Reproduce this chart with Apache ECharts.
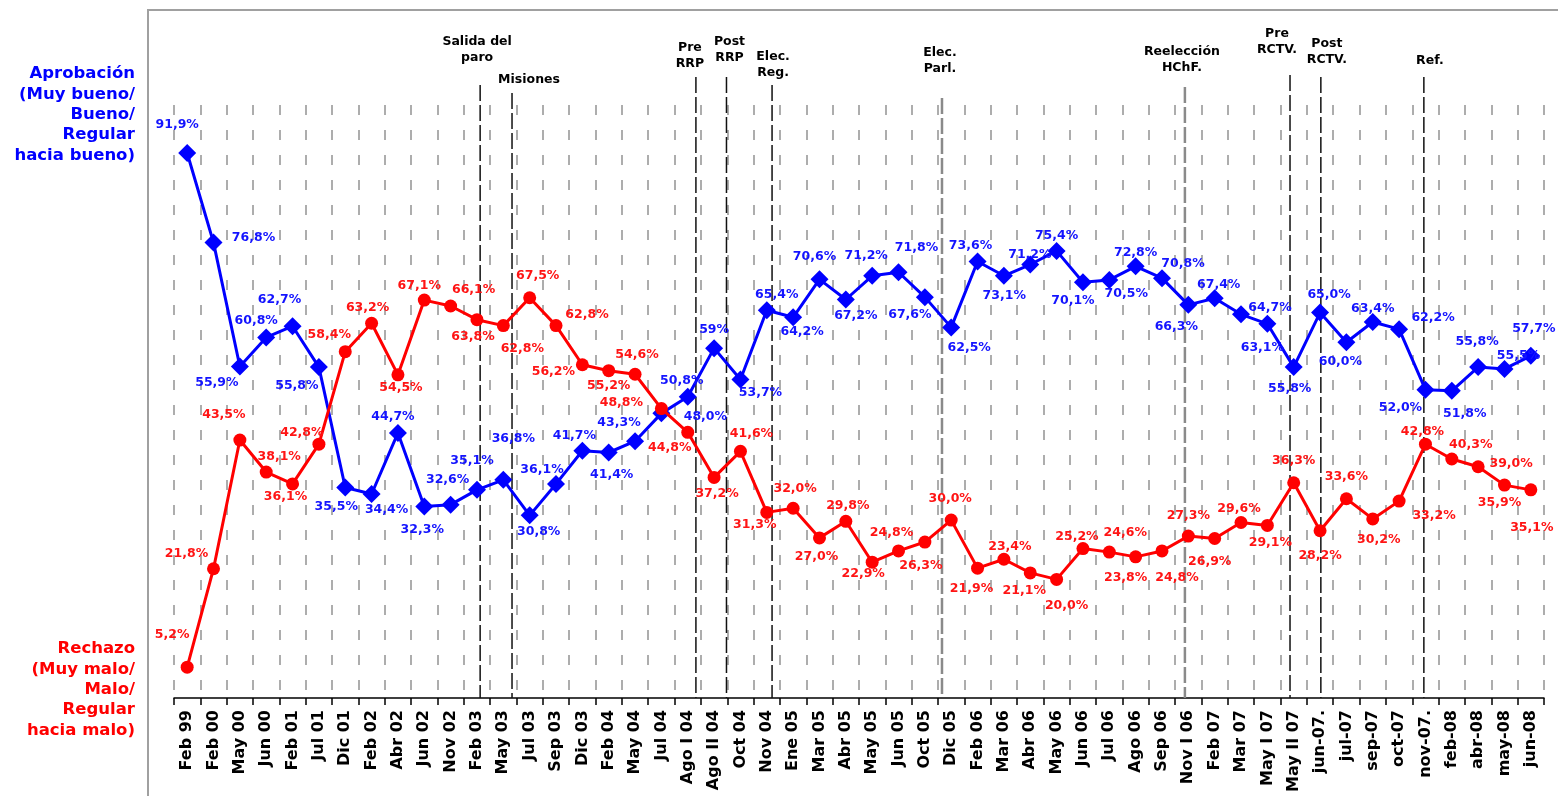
<!DOCTYPE html>
<html>
<head>
<meta charset="utf-8">
<script src="https://cdn.jsdelivr.net/npm/echarts@6/dist/echarts.min.js"></script>
<style>
html,body{margin:0;padding:0;background:#fff;}
#chart{width:1558px;height:796px;}
</style>
</head>
<body>
<div id="chart"></div>
<script>
// ---------------- DATA ----------------
const categories = ['Feb 99','Feb 00','May 00','Jun 00','Feb 01','Jul 01','Dic 01','Feb 02','Abr 02','Jun 02',
  'Nov 02','Feb 03','May 03','Jul 03','Sep 03','Dic 03','Feb 04','May 04','Jul 04','Ago I 04',
  'Ago II 04','Oct 04','Nov 04','Ene 05','Mar 05','Abr 05','May 05','Jun 05','Oct 05','Dic 05',
  'Feb 06','Mar 06','Abr 06','May 06','Jun 06','Jul 06','Ago 06','Sep 06','Nov I 06','Feb 07',
  'Mar 07','May I 07','May II 07','jun-07.','jul-07','sep-07','oct-07','nov-07.','feb-08','abr-08',
  'may-08','jun-08'];

// Aprobación (values as printed on the chart)
const aprobacion = ['91.9','76.8','55.9','60.8','62.7','55.8','35.5','34.4','44.7','32.3',
  '32.6','35.1','36.8','30.8','36.1','41.7','41.4','43.3','48.0','50.8',
  '59','53.7','65.4','64.2','70.6','67.2','71.2','71.8','67.6','62.5',
  '73.6','71.2','73.1','75.4','70.1','70.5','72.8','70.8','66.3','67.4',
  '64.7','63.1','55.8','65.0','60.0','63.4','62.2','52.0','51.8','55.8',
  '55.5','57.7'];

// Rechazo
const rechazo = ['5.2','21.8','43.5','38.1','36.1','42.8','58.4','63.2','54.5','67.1',
  '66.1','63.8','62.8','67.5','62.8','56.2','55.2','54.6','48.8','44.8',
  '37.2','41.6','31.3','32.0','27.0','29.8','22.9','24.8','26.3','30.0',
  '21.9','23.4','21.1','20.0','25.2','24.6','23.8','24.8','27.3','26.9',
  '29.6','29.1','36.3','28.2','33.6','30.2','33.2','42.8','40.3','39.0',
  '35.9','35.1'];

// Events (position in category index units, between surveys)
const eventNames = ['Salida del\nparo','Misiones','Pre\nRRP','Post\nRRP','Elec.\nReg.','Elec.\nParl.','Reelección\nHChF.','Pre\nRCTV.','Post\nRCTV.','Ref.'];
const eventPos = [11.12, 12.33, 19.31, 20.47, 22.2, 28.65, 37.87, 41.86, 43.03, 46.94];

const titleAprobacion = 'Aprobación\n(Muy bueno/\nBueno/\nRegular\nhacia bueno)';
const titleRechazo = 'Rechazo\n(Muy malo/\nMalo/\nRegular\nhacia malo)';

// ---------------- LAYOUT / STYLE ----------------
const blueLabelOffset = [[-10,-28],[40,-5],[-23,16],[-10,-17],[-13,-26],[-22,19],[-9,19],[15,16],[-5,-16],[-2,23],
  [-3,-25],[-5,-29],[10,-41],[9,16],[-14,-14],[-8,-15],[3,22],[-16,-18],[44,3],[-6,-16],
  [0,-18],[20,13],[10,-15],[9,14],[-5,-23],[10,16],[-6,-20],[18,-24],[-15,18],[18,20],
  [-7,-16],[26,-21],[-26,31],[0,-15],[-10,18],[17,14],[0,-14],[21,-14],[-12,22],[4,-14],
  [29,-7],[-5,24],[-4,22],[9,-18],[-6,20],[0,-13],[34,-11],[-25,18],[13,23],[-1,-25],
  [14,-13],[3,-27]];
const redLabelOffset = [[-15,-32],[-27,-15],[-16,-25],[13,-15],[-7,13],[-17,-11],[-16,-17],[-4,-15],[3,13],[-5,-14],
  [23,-16],[-4,17],[19,23],[8,-22],[31,-11],[-29,7],[0,15],[2,-19],[-40,-6],[-18,15],
  [3,16],[11,-18],[-12,12],[2,-19],[-3,19],[2,-16],[-9,12],[-7,-18],[-4,24],[-1,-21],
  [-6,21],[6,-12],[-6,18],[10,26],[-6,-12],[16,-19],[-10,21],[15,27],[0,-20],[-5,23],
  [-2,-14],[3,17],[0,-22],[0,25],[0,-22],[6,21],[35,15],[-3,-12],[19,-14],[33,-3],
  [-5,18],[1,38]];
// event line top (px), text dx (px), text top (px), gray style
const eventLayout = [
  {top:85, dx:-3, ty:34, gray:false},
  {top:93, dx:17, ty:72, gray:false},
  {top:77, dx:-6, ty:40, gray:false},
  {top:77, dx:3,  ty:34, gray:false},
  {top:85, dx:1,  ty:49, gray:false},
  {top:98, dx:-2, ty:45, gray:true},
  {top:87, dx:-3, ty:44, gray:true},
  {top:75, dx:-13,ty:26, gray:false},
  {top:77, dx:6,  ty:36, gray:false},
  {top:77, dx:6,  ty:53, gray:false}
];

const FONT = '"DejaVu Sans", "Liberation Sans", sans-serif';
const BLUE = '#0000ff';
const RED = '#ff0000';

function fmt(s){ return s.replace('.', ',') + '%'; }

const chart = echarts.init(document.getElementById('chart'), null, {renderer:'canvas'});

const option = {
  animation: false,
  backgroundColor: '#ffffff',
  grid: {left:174, right:14, top:105, bottom:98, containLabel:false, outerBoundsMode:'none'},
  xAxis: [{
    type:'category',
    data: categories,
    boundaryGap: true,
    axisLine: {show:true, lineStyle:{color:'#000', width:1.5}},
    axisTick: {show:true, length:7, lineStyle:{color:'#000', width:1.5}},
    axisLabel: {show:true, interval:0, rotate:90, margin:12, color:'#000',
      fontFamily: FONT, fontWeight:'bold', fontSize:16},
    splitLine: {show:true, interval:0, lineStyle:{color:'#939393', width:1.5, type:[10,15]}}
  },{
    type:'value', min:-0.5, max:categories.length-0.5, show:false,
    splitLine:{show:false}
  }],
  yAxis: [{
    type:'value', min:0, max:100, show:false, splitLine:{show:false}
  }],
  graphic: [
    {type:'rect', shape:{x:148, y:10, width:1500, height:900},
     style:{fill:'none', stroke:'#a0a0a0', lineWidth:2}, silent:true, z:-10},
    {type:'text', x:135, y:64,
     style:{text:titleAprobacion, fill:BLUE, font:'bold 16.5px ' + FONT, align:'right', verticalAlign:'top', lineHeight:20.3}},
    {type:'text', x:135, y:639,
     style:{text:titleRechazo, fill:RED, font:'bold 16.5px ' + FONT, align:'right', verticalAlign:'top', lineHeight:20.3}}
  ],
  series: [
    {
      type:'custom',
      name:'eventos',
      xAxisIndex:1, yAxisIndex:0,
      clip:false,
      z:1,
      silent:true,
      data: eventPos.map(p => [p, 0]),
      renderItem: function(params, api){
        const i = params.dataIndex;
        const base = api.coord([api.value(0), 0]);
        const x = base[0];
        const lay = eventLayout[i];
        return {
          type:'group',
          children:[
            {type:'line', shape:{x1:x, y1:lay.top, x2:x, y2:base[1]},
             style:{stroke: lay.gray ? '#8a8a8a' : '#111', lineWidth: lay.gray ? 2.5 : 1.5, lineDash:[16,4]}},
            {type:'text', style:{text:eventNames[i], x:x+lay.dx, y:lay.ty, align:'center', verticalAlign:'top',
              font:'bold 12.5px ' + FONT, fill:'#000', lineHeight:16}}
          ]
        };
      }
    },
    {
      type:'line',
      name:'Aprobación',
      z:3,
      data: aprobacion.map((v,i) => ({value:Number(v), label:{offset:blueLabelOffset[i]}})),
      symbol:'diamond',
      symbolSize:18,
      lineStyle:{color:BLUE, width:3},
      itemStyle:{color:BLUE},
      emphasis:{disabled:true},
      label:{show:true, position:'inside', formatter: p => fmt(aprobacion[p.dataIndex]),
        color:'#1414ff', fontFamily:FONT, fontWeight:'bold', fontSize:12.5, textBorderWidth:0}
    },
    {
      type:'line',
      name:'Rechazo',
      z:4,
      data: rechazo.map((v,i) => ({value:Number(v), label:{offset:redLabelOffset[i]}})),
      symbol:'circle',
      symbolSize:13,
      lineStyle:{color:RED, width:3},
      itemStyle:{color:RED},
      emphasis:{disabled:true},
      label:{show:true, position:'inside', formatter: p => fmt(rechazo[p.dataIndex]),
        color:'#ff1414', fontFamily:FONT, fontWeight:'bold', fontSize:12.5, textBorderWidth:0}
    }
  ]
};
chart.setOption(option);
</script>
</body>
</html>
